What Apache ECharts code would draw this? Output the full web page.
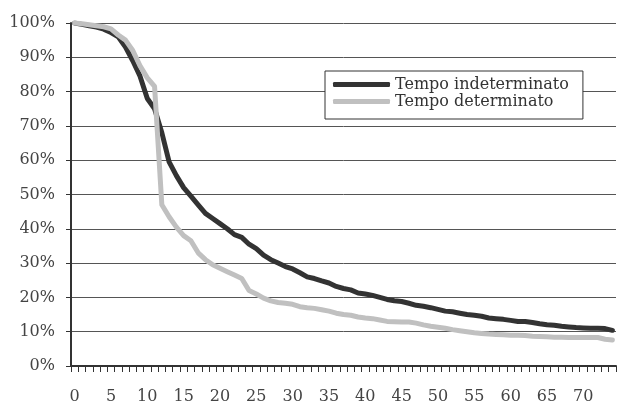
<!DOCTYPE html>
<html>
<head>
<meta charset="utf-8">
<script src="https://cdn.jsdelivr.net/npm/echarts@6/dist/echarts.min.js"></script>
<style>html,body{margin:0;padding:0;background:#fff;}#c{width:617px;height:405px;}</style>
</head>
<body>
<div id="c"></div>
<script>
const categories = Array.from({length: 75}, (_, i) => String(i));
const seriesNames = ['Tempo indeterminato', 'Tempo determinato'];
const indeterminato = [100, 99.6, 99.2, 98.8, 98.2, 97.2, 96, 93, 89, 84.5,
  78, 75, 68, 59.5, 55.5, 52, 49.5, 47, 44.5, 43,
  41.5, 40, 38.3, 37.5, 35.5, 34.2, 32.3, 31, 30, 29,
  28.3, 27.2, 26, 25.5, 24.8, 24.2, 23.2, 22.6, 22.2, 21.3,
  21, 20.6, 20, 19.4, 19, 18.8, 18.3, 17.7, 17.4, 17,
  16.5, 16, 15.8, 15.4, 15, 14.8, 14.5, 14, 13.8, 13.6,
  13.3, 13, 13, 12.7, 12.3, 12, 11.9, 11.6, 11.4, 11.2,
  11.1, 11, 11, 10.9, 10.4];
const determinato = [100, 99.8, 99.5, 99.2, 98.9, 98.3, 96.5, 95, 92, 87.5,
  84, 81.5, 47, 43.5, 40.5, 38, 36.5, 33, 31, 29.5,
  28.5, 27.5, 26.5, 25.5, 22, 21, 19.8, 19, 18.5, 18.3,
  18, 17.3, 17, 16.8, 16.4, 16, 15.4, 15, 14.8, 14.3,
  14, 13.8, 13.4, 13, 12.9, 12.8, 12.8, 12.5, 12, 11.6,
  11.3, 11, 10.6, 10.3, 10, 9.7, 9.5, 9.3, 9.2, 9.1,
  9, 9, 8.9, 8.7, 8.6, 8.5, 8.4, 8.4, 8.3, 8.3,
  8.3, 8.3, 8.3, 7.8, 7.6];

const FONT = 'DejaVu Serif';
const chart = echarts.init(document.getElementById('c'), null, {renderer: 'canvas'});
chart.setOption({
  animation: false,
  backgroundColor: '#ffffff',
  textStyle: {fontFamily: FONT},
  grid: {left: 71, right: 1, top: 23, bottom: 39, containLabel: false},
  legend: {
    orient: 'vertical',
    left: 325, top: 71,
    padding: [5, 14, 9, 8],
    itemGap: 0,
    itemWidth: 57,
    itemHeight: 5,
    icon: 'roundRect',
    borderColor: '#333',
    borderWidth: 1,
    backgroundColor: '#ffffff',
    textStyle: {fontFamily: FONT, fontSize: 16, color: '#333', lineHeight: 17},
    data: seriesNames
  },
  xAxis: {
    type: 'category',
    data: categories,
    boundaryGap: true,
    axisLine: {lineStyle: {color: '#333', width: 2}},
    axisTick: {show: true, interval: 0, length: 6, lineStyle: {color: '#333', width: 1}},
    axisLabel: {interval: 4, margin: 23, fontFamily: FONT, fontSize: 16, color: '#444'},
    splitLine: {show: false}
  },
  yAxis: {
    type: 'value',
    min: 0, max: 100, interval: 10,
    axisLine: {show: true, lineStyle: {color: '#333', width: 2}},
    axisTick: {show: true, length: 5, lineStyle: {color: '#333', width: 1}},
    axisLabel: {formatter: '{value}%', margin: 16, fontFamily: FONT, fontSize: 16, color: '#444'},
    splitLine: {show: true, lineStyle: {color: '#555', width: 1}}
  },
  series: [
    {name: seriesNames[0], type: 'line', data: indeterminato, showSymbol: false, symbol: 'none',
     itemStyle: {color: '#333333'},
     lineStyle: {color: '#333333', width: 5, cap: 'round', join: 'round'}},
    {name: seriesNames[1], type: 'line', data: determinato, showSymbol: false, symbol: 'none',
     itemStyle: {color: '#c0c0c0'},
     lineStyle: {color: '#c0c0c0', width: 5, cap: 'round', join: 'round'}}
  ]
});
</script>
</body>
</html>
